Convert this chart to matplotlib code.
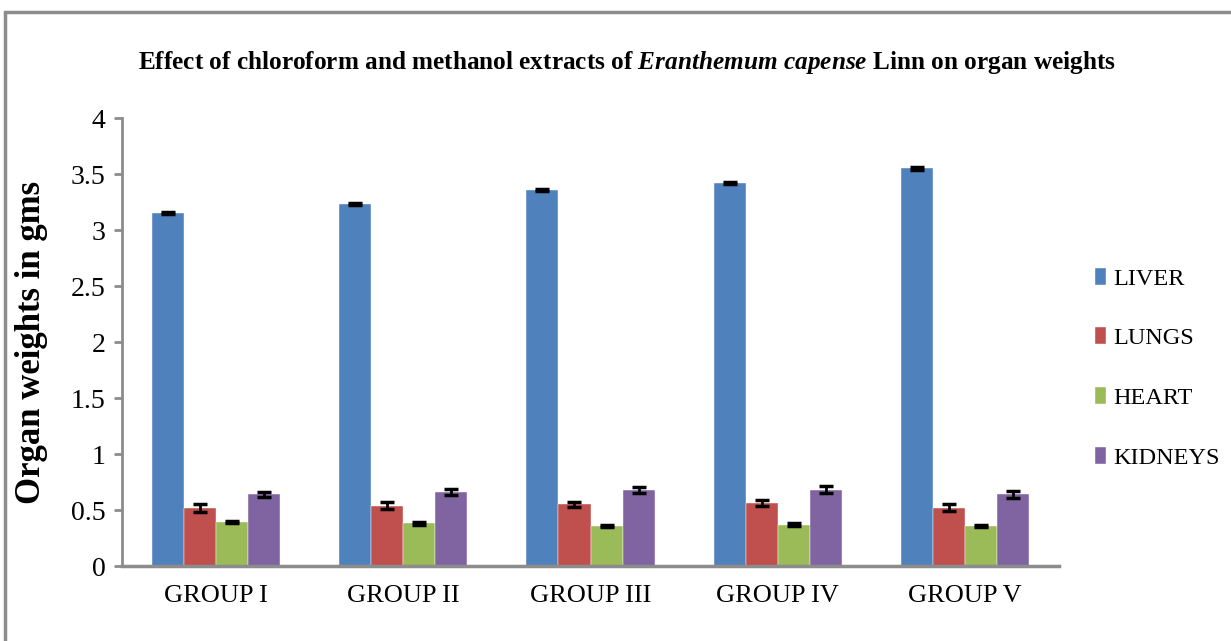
import matplotlib.pyplot as plt
import numpy as np
from matplotlib.patches import Rectangle

# ------ data
groups = ['GROUP I', 'GROUP II', 'GROUP III', 'GROUP IV', 'GROUP V']
organs = ['LIVER', 'LUNGS', 'HEART', 'KIDNEYS']
liver = [3.15, 3.23, 3.36, 3.42, 3.55]
lungs = [0.52, 0.54, 0.55, 0.56, 0.52]
heart = [0.39, 0.38, 0.36, 0.37, 0.36]
kidneys = [0.64, 0.66, 0.68, 0.68, 0.64]
liver_err = [0.01, 0.01, 0.01, 0.01, 0.01]
lungs_err = [0.035, 0.035, 0.025, 0.025, 0.03]
heart_err = [0.01, 0.015, 0.01, 0.01, 0.01]
kidneys_err = [0.025, 0.03, 0.025, 0.03, 0.03]
colors = ['#4F81BD', '#C0504D', '#9BBB59', '#8064A2']

plt.rcParams['font.family'] = ['Liberation Serif', 'DejaVu Serif']
plt.rcParams['mathtext.fontset'] = 'custom'
plt.rcParams['mathtext.it'] = 'Liberation Serif:italic:bold'
plt.rcParams['mathtext.rm'] = 'Liberation Serif:bold'

fig = plt.figure(figsize=(12.31, 6.41), dpi=100)
ax = fig.add_axes([122/1231, 1 - 566/641, 937/1231, 448/641])

# outer chart border (cut at right/bottom like the screenshot)
fig.patches.append(Rectangle((5/1231, -0.1), 1.2, (641 - 12)/641 + 0.1,
                             transform=fig.transFigure, fill=False,
                             edgecolor='#8c8c8c', linewidth=2.5))

x = np.arange(len(groups))
w = 0.171
series = [liver, lungs, heart, kidneys]
errs = [liver_err, lungs_err, heart_err, kidneys_err]
for i in range(4):
    pos = x + (i - 1.5) * w
    ax.bar(pos, series[i], w, color=colors[i], label=organs[i],
           edgecolor='white', linewidth=0.3)
    ax.errorbar(pos, series[i], yerr=errs[i], fmt='none', ecolor='black',
                elinewidth=2, capsize=5, capthick=2.5)

ax.set_xlim(-0.5, 4.5)
ax.set_ylim(0, 4)
ax.set_yticks(np.arange(0, 4.01, 0.5))
ax.set_yticklabels(['0', '0.5', '1', '1.5', '2', '2.5', '3', '3.5', '4'])
ax.set_xticks(x)
ax.set_xticklabels(groups)
ax.tick_params(axis='y', labelsize=20, length=6, width=2, color='#8c8c8c', pad=6)
ax.tick_params(axis='x', labelsize=19, length=0, pad=14)
for s in ['top', 'right']:
    ax.spines[s].set_visible(False)
ax.spines['left'].set_color('#8c8c8c')
ax.spines['left'].set_linewidth(2)
ax.spines['bottom'].set_color('#8c8c8c')
ax.spines['bottom'].set_linewidth(2.5)

ax.set_ylabel('Organ weights in gms', fontsize=25, fontweight='bold', labelpad=16)

fig.text(627/1231, 1 - 62/641,
         r'Effect of chloroform and methanol extracts of $\it{Eranthemum\ capense}$ Linn on organ weights',
         ha='center', va='center', fontsize=18.2, fontweight='bold')

ax.legend(loc='upper left', bbox_to_anchor=(1.015, 0.715), frameon=False,
          fontsize=17.5, handlelength=0.45, handleheight=0.7, handletextpad=0.3,
          labelspacing=1.55)

fig.savefig('out.png', dpi=100)
